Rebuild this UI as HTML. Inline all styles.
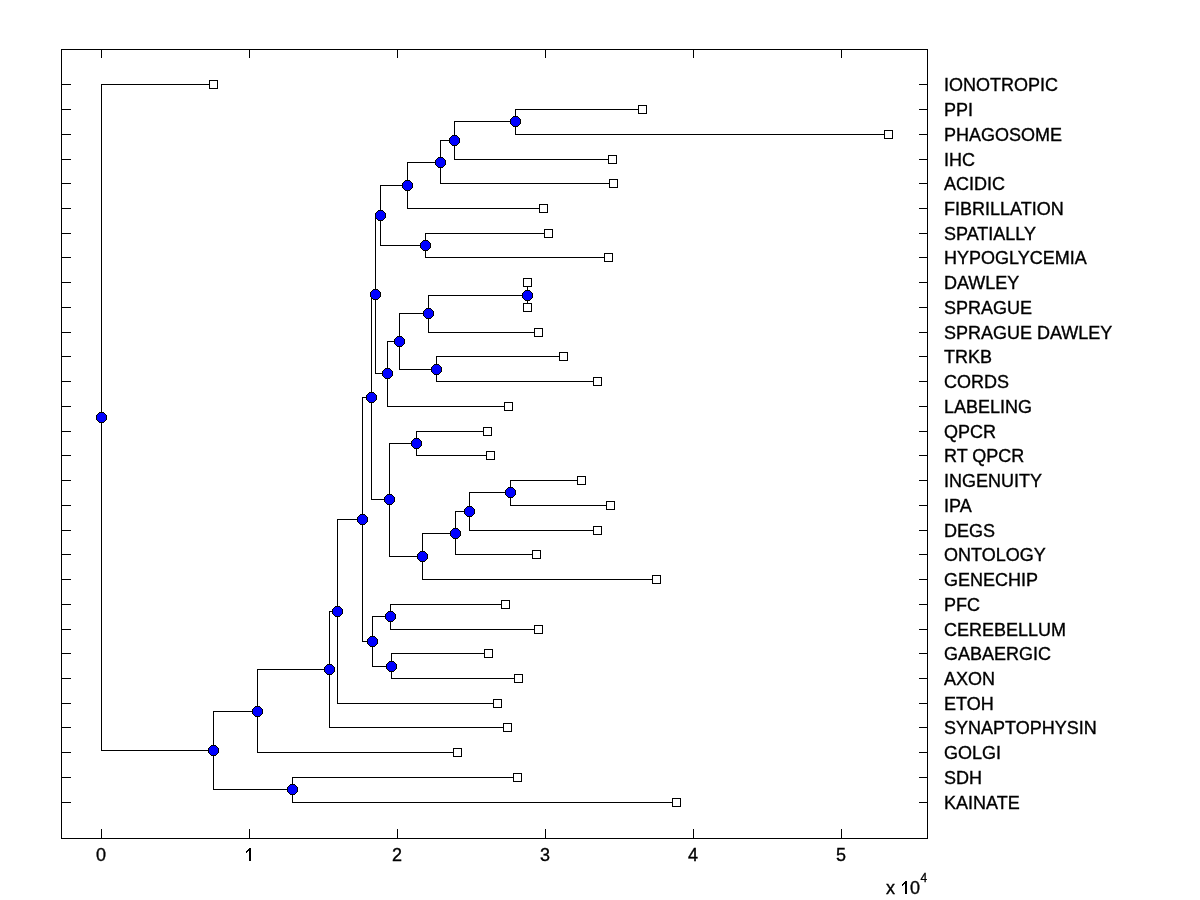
<!DOCTYPE html>
<html><head><meta charset="utf-8"><style>html,body{margin:0;padding:0;background:#fff;width:1200px;height:900px;overflow:hidden}svg{display:block;will-change:transform}</style></head><body>
<svg width="1200" height="900" viewBox="0 0 1200 900" shape-rendering="crispEdges">
<rect width="1200" height="900" fill="#fff"/>
<path fill="#000" d="M101 84h1v667h-1zM101 84h113v1h-113zM101 750h113v1h-113zM213 711h1v79h-1zM213 711h45v1h-45zM213 789h80v1h-80zM292 777h1v26h-1zM292 777h226v1h-226zM292 802h385v1h-385zM257 669h1v84h-1zM257 669h73v1h-73zM257 752h201v1h-201zM329 611h1v117h-1zM329 611h9v1h-9zM329 727h179v1h-179zM337 519h1v185h-1zM337 519h26v1h-26zM337 703h161v1h-161zM362 397h1v245h-1zM362 397h10v1h-10zM362 641h11v1h-11zM372 616h1v51h-1zM372 616h19v1h-19zM372 666h20v1h-20zM390 604h1v26h-1zM390 604h116v1h-116zM390 629h149v1h-149zM391 653h1v26h-1zM391 653h98v1h-98zM391 678h128v1h-128zM371 294h1v206h-1zM371 294h5v1h-5zM371 499h19v1h-19zM389 443h1v114h-1zM389 443h28v1h-28zM389 556h34v1h-34zM416 431h1v25h-1zM416 431h72v1h-72zM416 455h75v1h-75zM422 533h1v47h-1zM422 533h34v1h-34zM422 579h235v1h-235zM455 511h1v44h-1zM455 511h15v1h-15zM455 554h82v1h-82zM469 492h1v39h-1zM469 492h42v1h-42zM469 530h129v1h-129zM510 480h1v26h-1zM510 480h72v1h-72zM510 505h101v1h-101zM375 215h1v159h-1zM375 215h6v1h-6zM375 373h13v1h-13zM380 185h1v61h-1zM380 185h28v1h-28zM380 245h46v1h-46zM407 162h1v47h-1zM407 162h34v1h-34zM407 208h137v1h-137zM440 140h1v44h-1zM440 140h15v1h-15zM440 183h174v1h-174zM454 121h1v39h-1zM454 121h62v1h-62zM454 159h159v1h-159zM515 109h1v26h-1zM515 109h128v1h-128zM515 134h374v1h-374zM425 233h1v25h-1zM425 233h124v1h-124zM425 257h184v1h-184zM387 341h1v66h-1zM387 341h13v1h-13zM387 406h122v1h-122zM399 313h1v57h-1zM399 313h30v1h-30zM399 369h38v1h-38zM428 295h1v38h-1zM428 295h100v1h-100zM428 332h111v1h-111zM527 282h1v26h-1zM527 282h1v1h-1zM527 307h1v1h-1zM436 356h1v26h-1zM436 356h128v1h-128zM436 381h162v1h-162zM61 49h867v1h-867zM61 838h867v1h-867zM61 49h1v790h-1zM927 49h1v790h-1zM61 84h10v1h-10zM919 84h9v1h-9zM61 109h10v1h-10zM919 109h9v1h-9zM61 134h10v1h-10zM919 134h9v1h-9zM61 159h10v1h-10zM919 159h9v1h-9zM61 183h10v1h-10zM919 183h9v1h-9zM61 208h10v1h-10zM919 208h9v1h-9zM61 233h10v1h-10zM919 233h9v1h-9zM61 257h10v1h-10zM919 257h9v1h-9zM61 282h10v1h-10zM919 282h9v1h-9zM61 307h10v1h-10zM919 307h9v1h-9zM61 332h10v1h-10zM919 332h9v1h-9zM61 356h10v1h-10zM919 356h9v1h-9zM61 381h10v1h-10zM919 381h9v1h-9zM61 406h10v1h-10zM919 406h9v1h-9zM61 431h10v1h-10zM919 431h9v1h-9zM61 455h10v1h-10zM919 455h9v1h-9zM61 480h10v1h-10zM919 480h9v1h-9zM61 505h10v1h-10zM919 505h9v1h-9zM61 530h10v1h-10zM919 530h9v1h-9zM61 554h10v1h-10zM919 554h9v1h-9zM61 579h10v1h-10zM919 579h9v1h-9zM61 604h10v1h-10zM919 604h9v1h-9zM61 629h10v1h-10zM919 629h9v1h-9zM61 653h10v1h-10zM919 653h9v1h-9zM61 678h10v1h-10zM919 678h9v1h-9zM61 703h10v1h-10zM919 703h9v1h-9zM61 727h10v1h-10zM919 727h9v1h-9zM61 752h10v1h-10zM919 752h9v1h-9zM61 777h10v1h-10zM919 777h9v1h-9zM61 802h10v1h-10zM919 802h9v1h-9zM101 49h1v9h-1zM101 829h1v10h-1zM249 49h1v9h-1zM249 829h1v10h-1zM397 49h1v9h-1zM397 829h1v10h-1zM545 49h1v9h-1zM545 829h1v10h-1zM693 49h1v9h-1zM693 829h1v10h-1zM841 49h1v9h-1zM841 829h1v10h-1z"/>
<path fill="#000" d="M209 80h9v9h-9zM638 105h9v9h-9zM884 130h9v9h-9zM608 155h9v9h-9zM609 179h9v9h-9zM539 204h9v9h-9zM544 229h9v9h-9zM604 253h9v9h-9zM523 278h9v9h-9zM523 303h9v9h-9zM534 328h9v9h-9zM559 352h9v9h-9zM593 377h9v9h-9zM504 402h9v9h-9zM483 427h9v9h-9zM486 451h9v9h-9zM577 476h9v9h-9zM606 501h9v9h-9zM593 526h9v9h-9zM532 550h9v9h-9zM652 575h9v9h-9zM501 600h9v9h-9zM534 625h9v9h-9zM484 649h9v9h-9zM514 674h9v9h-9zM493 699h9v9h-9zM503 723h9v9h-9zM453 748h9v9h-9zM513 773h9v9h-9zM672 798h9v9h-9z"/>
<path fill="#fff" d="M210 81h7v7h-7zM639 106h7v7h-7zM885 131h7v7h-7zM609 156h7v7h-7zM610 180h7v7h-7zM540 205h7v7h-7zM545 230h7v7h-7zM605 254h7v7h-7zM524 279h7v7h-7zM524 304h7v7h-7zM535 329h7v7h-7zM560 353h7v7h-7zM594 378h7v7h-7zM505 403h7v7h-7zM484 428h7v7h-7zM487 452h7v7h-7zM578 477h7v7h-7zM607 502h7v7h-7zM594 527h7v7h-7zM533 551h7v7h-7zM653 576h7v7h-7zM502 601h7v7h-7zM535 626h7v7h-7zM485 650h7v7h-7zM515 675h7v7h-7zM494 700h7v7h-7zM504 724h7v7h-7zM454 749h7v7h-7zM514 774h7v7h-7zM673 799h7v7h-7z"/>
<g fill="#000"><path transform="translate(101 417)" d="M-2,-5H3V-4H4V-3H5V-2H6V3H5V4H4V5H3V6H-2V5H-3V4H-4V3H-5V-2H-4V-3H-3V-4H-2Z"/><path transform="translate(213 750)" d="M-2,-5H3V-4H4V-3H5V-2H6V3H5V4H4V5H3V6H-2V5H-3V4H-4V3H-5V-2H-4V-3H-3V-4H-2Z"/><path transform="translate(292 789)" d="M-2,-5H3V-4H4V-3H5V-2H6V3H5V4H4V5H3V6H-2V5H-3V4H-4V3H-5V-2H-4V-3H-3V-4H-2Z"/><path transform="translate(257 711)" d="M-2,-5H3V-4H4V-3H5V-2H6V3H5V4H4V5H3V6H-2V5H-3V4H-4V3H-5V-2H-4V-3H-3V-4H-2Z"/><path transform="translate(329 669)" d="M-2,-5H3V-4H4V-3H5V-2H6V3H5V4H4V5H3V6H-2V5H-3V4H-4V3H-5V-2H-4V-3H-3V-4H-2Z"/><path transform="translate(337 611)" d="M-2,-5H3V-4H4V-3H5V-2H6V3H5V4H4V5H3V6H-2V5H-3V4H-4V3H-5V-2H-4V-3H-3V-4H-2Z"/><path transform="translate(362 519)" d="M-2,-5H3V-4H4V-3H5V-2H6V3H5V4H4V5H3V6H-2V5H-3V4H-4V3H-5V-2H-4V-3H-3V-4H-2Z"/><path transform="translate(372 641)" d="M-2,-5H3V-4H4V-3H5V-2H6V3H5V4H4V5H3V6H-2V5H-3V4H-4V3H-5V-2H-4V-3H-3V-4H-2Z"/><path transform="translate(390 616)" d="M-2,-5H3V-4H4V-3H5V-2H6V3H5V4H4V5H3V6H-2V5H-3V4H-4V3H-5V-2H-4V-3H-3V-4H-2Z"/><path transform="translate(391 666)" d="M-2,-5H3V-4H4V-3H5V-2H6V3H5V4H4V5H3V6H-2V5H-3V4H-4V3H-5V-2H-4V-3H-3V-4H-2Z"/><path transform="translate(371 397)" d="M-2,-5H3V-4H4V-3H5V-2H6V3H5V4H4V5H3V6H-2V5H-3V4H-4V3H-5V-2H-4V-3H-3V-4H-2Z"/><path transform="translate(389 499)" d="M-2,-5H3V-4H4V-3H5V-2H6V3H5V4H4V5H3V6H-2V5H-3V4H-4V3H-5V-2H-4V-3H-3V-4H-2Z"/><path transform="translate(416 443)" d="M-2,-5H3V-4H4V-3H5V-2H6V3H5V4H4V5H3V6H-2V5H-3V4H-4V3H-5V-2H-4V-3H-3V-4H-2Z"/><path transform="translate(422 556)" d="M-2,-5H3V-4H4V-3H5V-2H6V3H5V4H4V5H3V6H-2V5H-3V4H-4V3H-5V-2H-4V-3H-3V-4H-2Z"/><path transform="translate(455 533)" d="M-2,-5H3V-4H4V-3H5V-2H6V3H5V4H4V5H3V6H-2V5H-3V4H-4V3H-5V-2H-4V-3H-3V-4H-2Z"/><path transform="translate(469 511)" d="M-2,-5H3V-4H4V-3H5V-2H6V3H5V4H4V5H3V6H-2V5H-3V4H-4V3H-5V-2H-4V-3H-3V-4H-2Z"/><path transform="translate(510 492)" d="M-2,-5H3V-4H4V-3H5V-2H6V3H5V4H4V5H3V6H-2V5H-3V4H-4V3H-5V-2H-4V-3H-3V-4H-2Z"/><path transform="translate(375 294)" d="M-2,-5H3V-4H4V-3H5V-2H6V3H5V4H4V5H3V6H-2V5H-3V4H-4V3H-5V-2H-4V-3H-3V-4H-2Z"/><path transform="translate(380 215)" d="M-2,-5H3V-4H4V-3H5V-2H6V3H5V4H4V5H3V6H-2V5H-3V4H-4V3H-5V-2H-4V-3H-3V-4H-2Z"/><path transform="translate(407 185)" d="M-2,-5H3V-4H4V-3H5V-2H6V3H5V4H4V5H3V6H-2V5H-3V4H-4V3H-5V-2H-4V-3H-3V-4H-2Z"/><path transform="translate(440 162)" d="M-2,-5H3V-4H4V-3H5V-2H6V3H5V4H4V5H3V6H-2V5H-3V4H-4V3H-5V-2H-4V-3H-3V-4H-2Z"/><path transform="translate(454 140)" d="M-2,-5H3V-4H4V-3H5V-2H6V3H5V4H4V5H3V6H-2V5H-3V4H-4V3H-5V-2H-4V-3H-3V-4H-2Z"/><path transform="translate(515 121)" d="M-2,-5H3V-4H4V-3H5V-2H6V3H5V4H4V5H3V6H-2V5H-3V4H-4V3H-5V-2H-4V-3H-3V-4H-2Z"/><path transform="translate(425 245)" d="M-2,-5H3V-4H4V-3H5V-2H6V3H5V4H4V5H3V6H-2V5H-3V4H-4V3H-5V-2H-4V-3H-3V-4H-2Z"/><path transform="translate(387 373)" d="M-2,-5H3V-4H4V-3H5V-2H6V3H5V4H4V5H3V6H-2V5H-3V4H-4V3H-5V-2H-4V-3H-3V-4H-2Z"/><path transform="translate(399 341)" d="M-2,-5H3V-4H4V-3H5V-2H6V3H5V4H4V5H3V6H-2V5H-3V4H-4V3H-5V-2H-4V-3H-3V-4H-2Z"/><path transform="translate(428 313)" d="M-2,-5H3V-4H4V-3H5V-2H6V3H5V4H4V5H3V6H-2V5H-3V4H-4V3H-5V-2H-4V-3H-3V-4H-2Z"/><path transform="translate(527 295)" d="M-2,-5H3V-4H4V-3H5V-2H6V3H5V4H4V5H3V6H-2V5H-3V4H-4V3H-5V-2H-4V-3H-3V-4H-2Z"/><path transform="translate(436 369)" d="M-2,-5H3V-4H4V-3H5V-2H6V3H5V4H4V5H3V6H-2V5H-3V4H-4V3H-5V-2H-4V-3H-3V-4H-2Z"/></g>
<g fill="#00f"><path transform="translate(101 417)" d="M-2,-4H3V-3H4V-2H5V3H4V4H3V5H-2V4H-3V3H-4V-2H-3V-3H-2Z"/><path transform="translate(213 750)" d="M-2,-4H3V-3H4V-2H5V3H4V4H3V5H-2V4H-3V3H-4V-2H-3V-3H-2Z"/><path transform="translate(292 789)" d="M-2,-4H3V-3H4V-2H5V3H4V4H3V5H-2V4H-3V3H-4V-2H-3V-3H-2Z"/><path transform="translate(257 711)" d="M-2,-4H3V-3H4V-2H5V3H4V4H3V5H-2V4H-3V3H-4V-2H-3V-3H-2Z"/><path transform="translate(329 669)" d="M-2,-4H3V-3H4V-2H5V3H4V4H3V5H-2V4H-3V3H-4V-2H-3V-3H-2Z"/><path transform="translate(337 611)" d="M-2,-4H3V-3H4V-2H5V3H4V4H3V5H-2V4H-3V3H-4V-2H-3V-3H-2Z"/><path transform="translate(362 519)" d="M-2,-4H3V-3H4V-2H5V3H4V4H3V5H-2V4H-3V3H-4V-2H-3V-3H-2Z"/><path transform="translate(372 641)" d="M-2,-4H3V-3H4V-2H5V3H4V4H3V5H-2V4H-3V3H-4V-2H-3V-3H-2Z"/><path transform="translate(390 616)" d="M-2,-4H3V-3H4V-2H5V3H4V4H3V5H-2V4H-3V3H-4V-2H-3V-3H-2Z"/><path transform="translate(391 666)" d="M-2,-4H3V-3H4V-2H5V3H4V4H3V5H-2V4H-3V3H-4V-2H-3V-3H-2Z"/><path transform="translate(371 397)" d="M-2,-4H3V-3H4V-2H5V3H4V4H3V5H-2V4H-3V3H-4V-2H-3V-3H-2Z"/><path transform="translate(389 499)" d="M-2,-4H3V-3H4V-2H5V3H4V4H3V5H-2V4H-3V3H-4V-2H-3V-3H-2Z"/><path transform="translate(416 443)" d="M-2,-4H3V-3H4V-2H5V3H4V4H3V5H-2V4H-3V3H-4V-2H-3V-3H-2Z"/><path transform="translate(422 556)" d="M-2,-4H3V-3H4V-2H5V3H4V4H3V5H-2V4H-3V3H-4V-2H-3V-3H-2Z"/><path transform="translate(455 533)" d="M-2,-4H3V-3H4V-2H5V3H4V4H3V5H-2V4H-3V3H-4V-2H-3V-3H-2Z"/><path transform="translate(469 511)" d="M-2,-4H3V-3H4V-2H5V3H4V4H3V5H-2V4H-3V3H-4V-2H-3V-3H-2Z"/><path transform="translate(510 492)" d="M-2,-4H3V-3H4V-2H5V3H4V4H3V5H-2V4H-3V3H-4V-2H-3V-3H-2Z"/><path transform="translate(375 294)" d="M-2,-4H3V-3H4V-2H5V3H4V4H3V5H-2V4H-3V3H-4V-2H-3V-3H-2Z"/><path transform="translate(380 215)" d="M-2,-4H3V-3H4V-2H5V3H4V4H3V5H-2V4H-3V3H-4V-2H-3V-3H-2Z"/><path transform="translate(407 185)" d="M-2,-4H3V-3H4V-2H5V3H4V4H3V5H-2V4H-3V3H-4V-2H-3V-3H-2Z"/><path transform="translate(440 162)" d="M-2,-4H3V-3H4V-2H5V3H4V4H3V5H-2V4H-3V3H-4V-2H-3V-3H-2Z"/><path transform="translate(454 140)" d="M-2,-4H3V-3H4V-2H5V3H4V4H3V5H-2V4H-3V3H-4V-2H-3V-3H-2Z"/><path transform="translate(515 121)" d="M-2,-4H3V-3H4V-2H5V3H4V4H3V5H-2V4H-3V3H-4V-2H-3V-3H-2Z"/><path transform="translate(425 245)" d="M-2,-4H3V-3H4V-2H5V3H4V4H3V5H-2V4H-3V3H-4V-2H-3V-3H-2Z"/><path transform="translate(387 373)" d="M-2,-4H3V-3H4V-2H5V3H4V4H3V5H-2V4H-3V3H-4V-2H-3V-3H-2Z"/><path transform="translate(399 341)" d="M-2,-4H3V-3H4V-2H5V3H4V4H3V5H-2V4H-3V3H-4V-2H-3V-3H-2Z"/><path transform="translate(428 313)" d="M-2,-4H3V-3H4V-2H5V3H4V4H3V5H-2V4H-3V3H-4V-2H-3V-3H-2Z"/><path transform="translate(527 295)" d="M-2,-4H3V-3H4V-2H5V3H4V4H3V5H-2V4H-3V3H-4V-2H-3V-3H-2Z"/><path transform="translate(436 369)" d="M-2,-4H3V-3H4V-2H5V3H4V4H3V5H-2V4H-3V3H-4V-2H-3V-3H-2Z"/></g>
<g font-family="Liberation Sans, sans-serif" font-size="18" fill="#000" stroke="#000" stroke-width="0.35"><text x="944" y="91">IONOTROPIC</text><text x="944" y="116">PPI</text><text x="944" y="141">PHAGOSOME</text><text x="944" y="166">IHC</text><text x="944" y="190">ACIDIC</text><text x="944" y="215">FIBRILLATION</text><text x="944" y="240">SPATIALLY</text><text x="944" y="264">HYPOGLYCEMIA</text><text x="944" y="289">DAWLEY</text><text x="944" y="314">SPRAGUE</text><text x="944" y="339">SPRAGUE DAWLEY</text><text x="944" y="363">TRKB</text><text x="944" y="388">CORDS</text><text x="944" y="413">LABELING</text><text x="944" y="438">QPCR</text><text x="944" y="462">RT QPCR</text><text x="944" y="487">INGENUITY</text><text x="944" y="512">IPA</text><text x="944" y="537">DEGS</text><text x="944" y="561">ONTOLOGY</text><text x="944" y="586">GENECHIP</text><text x="944" y="611">PFC</text><text x="944" y="636">CEREBELLUM</text><text x="944" y="660">GABAERGIC</text><text x="944" y="685">AXON</text><text x="944" y="710">ETOH</text><text x="944" y="734">SYNAPTOPHYSIN</text><text x="944" y="759">GOLGI</text><text x="944" y="784">SDH</text><text x="944" y="809">KAINATE</text></g>
<g font-family="Liberation Sans, sans-serif" font-size="18" fill="#000" stroke="#000" stroke-width="0.35"><text x="101" y="861" text-anchor="middle">0</text><text x="397" y="861" text-anchor="middle">2</text><text x="545" y="861" text-anchor="middle">3</text><text x="693" y="861" text-anchor="middle">4</text><text x="841" y="861" text-anchor="middle">5</text></g>
<g font-family="Liberation Sans, sans-serif" font-size="18" stroke="#000" stroke-width="0.35"><text x="886" y="894">x</text><text x="915" y="894" text-anchor="middle">0</text></g>
<path fill="#000" d="M249 848h2v13h-2zM248 849h1v2h-1zM247 850h1v2h-1zM246 851h1v2h-1zM905 881h2v13h-2zM904 882h1v2h-1zM903 883h1v2h-1zM902 884h1v2h-1z"/>
<text x="920.5" y="882" font-family="Liberation Sans, sans-serif" font-size="12" stroke="#000" stroke-width="0.3">4</text>
</svg>
</body></html>
